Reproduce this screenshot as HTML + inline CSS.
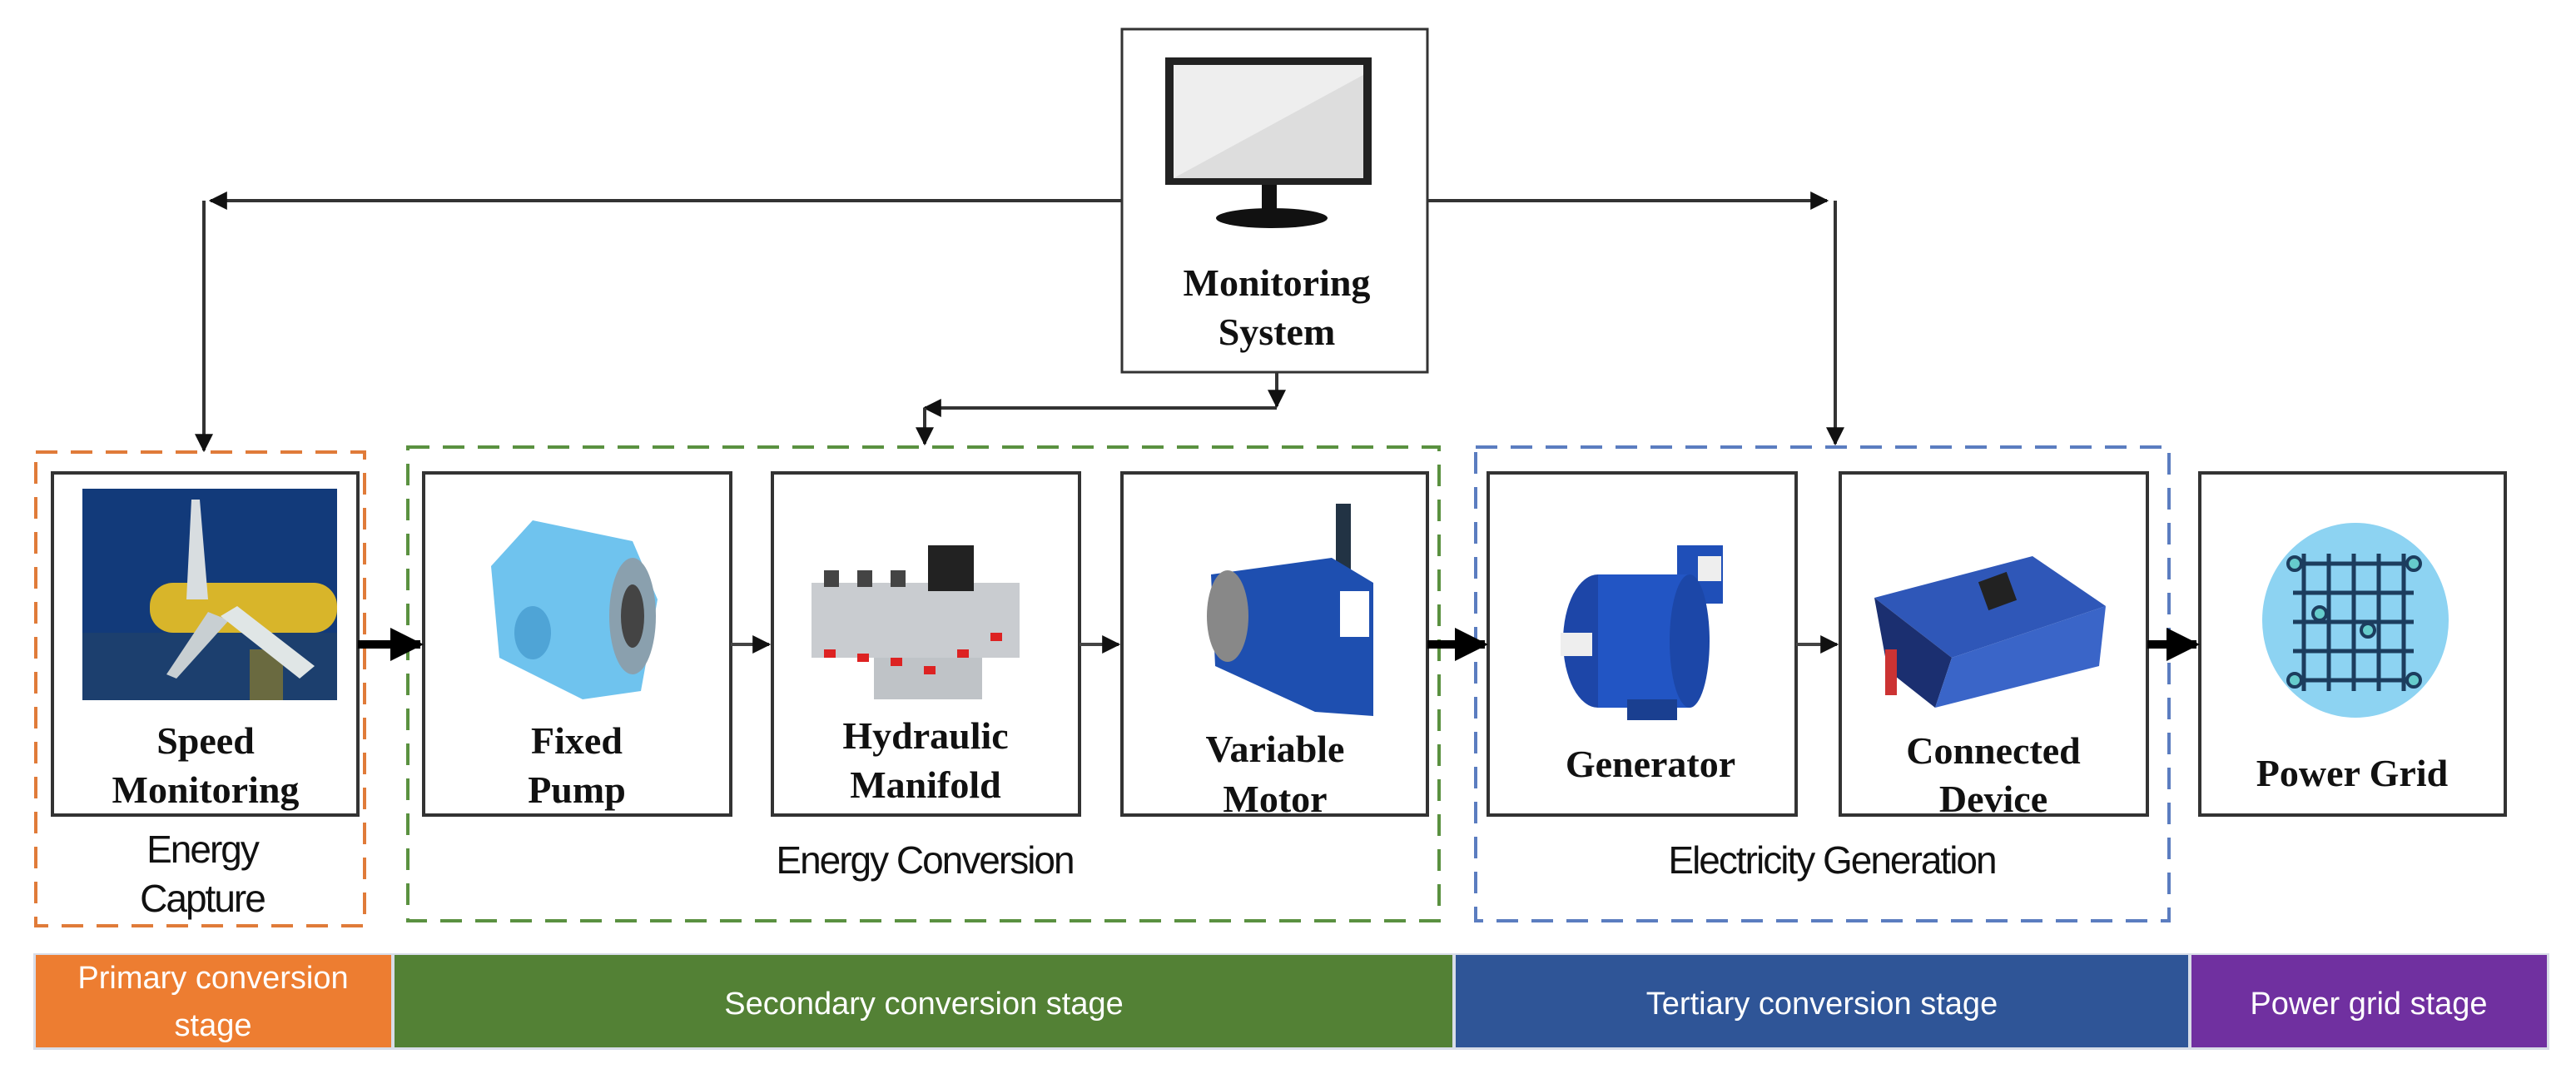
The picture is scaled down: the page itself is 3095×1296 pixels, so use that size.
<!DOCTYPE html>
<html><head><meta charset="utf-8"><style>
html,body{margin:0;padding:0;background:#fff;width:3095px;height:1296px;overflow:hidden}
svg{display:block}
.lb{font-family:"Liberation Serif",serif;font-weight:bold;font-size:46px;fill:#111;text-anchor:middle}
.gl{font-family:"Liberation Sans",sans-serif;font-size:46px;fill:#111;text-anchor:middle;letter-spacing:-2px}
.bt{font-family:"Liberation Sans",sans-serif;font-size:38px;fill:#fff;text-anchor:middle}
</style></head><body>
<svg width="3095" height="1296" viewBox="0 0 3095 1296" xmlns="http://www.w3.org/2000/svg">
<defs>
<marker id="as" viewBox="0 0 10 10" markerWidth="22" markerHeight="22" refX="9" refY="5" orient="auto" markerUnits="userSpaceOnUse"><path d="M0,0 L10,5 L0,10 z" fill="#111"/></marker>
<marker id="at" viewBox="0 0 10 10" markerWidth="40" markerHeight="40" refX="9" refY="5" orient="auto" markerUnits="userSpaceOnUse"><path d="M0,0 L10,5 L0,10 z" fill="#000"/></marker>
</defs>

<rect x="1348" y="35" width="367" height="412" fill="#fff" stroke="#333" stroke-width="3"/>
<rect x="1400" y="69" width="248" height="153" fill="#222"/>
<rect x="1410" y="78" width="228" height="136" fill="#eee"/>
<polygon points="1410,214 1638,90 1638,214" fill="#ddd"/>
<rect x="1516" y="222" width="18" height="36" fill="#111"/>
<ellipse cx="1528" cy="262" rx="67" ry="12" fill="#111"/>
<text class="lb" x="1534" y="355">Monitoring</text>
<text class="lb" x="1534" y="414">System</text>

<g stroke="#333" stroke-width="4" fill="none">
<line x1="1348" y1="241" x2="253" y2="241" marker-end="url(#as)"/>
<line x1="245" y1="241" x2="245" y2="541" marker-end="url(#as)"/>
<line x1="1715" y1="241" x2="2195" y2="241" marker-end="url(#as)"/>
<line x1="2205" y1="241" x2="2205" y2="533" marker-end="url(#as)"/>
<line x1="1534" y1="447" x2="1534" y2="488" marker-end="url(#as)"/>
<line x1="1534" y1="490" x2="1111" y2="490" marker-end="url(#as)"/>
<line x1="1111" y1="490" x2="1111" y2="533" marker-end="url(#as)"/>
</g>

<rect x="43" y="543" width="395" height="569" fill="none" stroke="#E07B39" stroke-width="4" stroke-dasharray="26,16"/>
<rect x="490" y="537" width="1239" height="569" fill="none" stroke="#5A9140" stroke-width="4" stroke-dasharray="26,16"/>
<rect x="1773" y="537" width="833" height="569" fill="none" stroke="#5B7DC0" stroke-width="4" stroke-dasharray="26,16"/>

<g fill="#fff" stroke="#333" stroke-width="4">
<rect x="63" y="568" width="367" height="411"/>
<rect x="509" y="568" width="369" height="411"/>
<rect x="928" y="568" width="369" height="411"/>
<rect x="1348" y="568" width="367" height="411"/>
<rect x="1788" y="568" width="370" height="411"/>
<rect x="2211" y="568" width="369" height="411"/>
<rect x="2643" y="568" width="367" height="411"/>
</g>

<rect x="99" y="587" width="306" height="254" fill="#123A7A"/>
<rect x="99" y="760" width="306" height="81" fill="#1C3F6E"/>
<rect x="300" y="780" width="40" height="61" fill="#6a6a40"/>
<rect x="180" y="700" width="225" height="60" rx="28" fill="#D8B52A"/>
<polygon points="230,600 240,600 250,720 224,720" fill="#d8dde0"/>
<polygon points="250,735 200,810 212,815 275,745" fill="#c8cfd2"/>
<polygon points="265,740 360,815 378,800 285,728" fill="#e0e6e6"/>

<polygon points="590,680 640,625 760,650 790,720 770,830 700,840 600,790" fill="#6FC3EE"/>
<ellipse cx="760" cy="740" rx="28" ry="70" fill="#8aa0ae"/>
<ellipse cx="760" cy="740" rx="14" ry="38" fill="#444"/>
<ellipse cx="640" cy="760" rx="22" ry="32" fill="#4FA4D6"/>

<rect x="975" y="700" width="250" height="90" fill="#c9ccd0"/>
<rect x="1050" y="790" width="130" height="50" fill="#bfc3c7"/>
<rect x="1115" y="655" width="55" height="55" fill="#222"/>
<g fill="#d22">
<rect x="990" y="780" width="14" height="10"/><rect x="1030" y="785" width="14" height="10"/><rect x="1070" y="790" width="14" height="10"/><rect x="1110" y="800" width="14" height="10"/><rect x="1150" y="780" width="14" height="10"/><rect x="1190" y="760" width="14" height="10"/>
</g>
<g fill="#444"><rect x="990" y="685" width="18" height="20"/><rect x="1030" y="685" width="18" height="20"/><rect x="1070" y="685" width="18" height="20"/></g>

<rect x="1605" y="605" width="18" height="80" fill="#234" />
<polygon points="1455,690 1600,670 1650,700 1650,860 1580,855 1460,800" fill="#1E4FB0"/>
<ellipse cx="1475" cy="740" rx="25" ry="55" fill="#888"/>
<rect x="1610" y="710" width="35" height="55" fill="#fff"/>

<rect x="2015" y="655" width="55" height="70" fill="#1F4FB8"/>
<rect x="2040" y="668" width="28" height="30" fill="#eee"/>
<ellipse cx="1920" cy="770" rx="42" ry="80" fill="#1D46A8"/>
<rect x="1920" y="690" width="110" height="160" fill="#2255C4"/>
<ellipse cx="2030" cy="770" rx="24" ry="80" fill="#1C47A8"/>
<rect x="1875" y="760" width="38" height="28" fill="#eee"/>
<rect x="1955" y="840" width="60" height="25" fill="#1A3F90"/>

<polygon points="2252,718 2442,668 2530,728 2345,790" fill="#2F57B8"/>
<polygon points="2252,718 2345,790 2325,850 2268,805" fill="#1b2f70"/>
<polygon points="2345,790 2530,728 2522,800 2325,850" fill="#3a65c8"/>
<rect x="2382" y="692" width="36" height="36" fill="#222" transform="rotate(-20 2400 710)"/>
<rect x="2265" y="780" width="14" height="55" fill="#c33"/>

<ellipse cx="2830" cy="745" rx="112" ry="117" fill="#8DD3F2"/>
<g stroke="#1c3d5e" stroke-width="5" fill="none">
<line x1="2755" y1="677" x2="2900" y2="677"/><line x1="2755" y1="712" x2="2900" y2="712"/><line x1="2755" y1="747" x2="2900" y2="747"/><line x1="2755" y1="782" x2="2900" y2="782"/><line x1="2755" y1="817" x2="2900" y2="817"/>
<line x1="2768" y1="665" x2="2768" y2="830"/><line x1="2798" y1="665" x2="2798" y2="830"/><line x1="2828" y1="665" x2="2828" y2="830"/><line x1="2858" y1="665" x2="2858" y2="830"/><line x1="2888" y1="665" x2="2888" y2="830"/>
</g>
<g fill="#6cc" stroke="#1c3d5e" stroke-width="4">
<circle cx="2757" cy="677" r="8"/><circle cx="2900" cy="677" r="8"/><circle cx="2757" cy="817" r="8"/><circle cx="2900" cy="817" r="8"/><circle cx="2787" cy="737" r="8"/><circle cx="2845" cy="757" r="8"/>
</g>

<text class="lb" x="247" y="905">Speed</text>
<text class="lb" x="247" y="964">Monitoring</text>
<text class="lb" x="693" y="905">Fixed</text>
<text class="lb" x="693" y="964">Pump</text>
<text class="lb" x="1112" y="899">Hydraulic</text>
<text class="lb" x="1112" y="958">Manifold</text>
<text class="lb" x="1532" y="915">Variable</text>
<text class="lb" x="1532" y="975">Motor</text>
<text class="lb" x="1983" y="933">Generator</text>
<text class="lb" x="2395" y="917">Connected</text>
<text class="lb" x="2395" y="975">Device</text>
<text class="lb" x="2826" y="944">Power Grid</text>

<g stroke="#000" fill="none">
<line x1="430" y1="774" x2="505" y2="774" stroke-width="10" marker-end="url(#at)"/>
<line x1="1715" y1="774" x2="1784" y2="774" stroke-width="10" marker-end="url(#at)"/>
<line x1="2580" y1="774" x2="2639" y2="774" stroke-width="10" marker-end="url(#at)"/>
<line x1="878" y1="774" x2="924" y2="774" stroke="#444" stroke-width="4" marker-end="url(#as)"/>
<line x1="1297" y1="774" x2="1344" y2="774" stroke="#444" stroke-width="4" marker-end="url(#as)"/>
<line x1="2158" y1="774" x2="2207" y2="774" stroke="#444" stroke-width="4" marker-end="url(#as)"/>
</g>

<text class="gl" x="243" y="1036">Energy</text>
<text class="gl" x="243" y="1095">Capture</text>
<text class="gl" x="1111" y="1049">Energy Conversion</text>
<text class="gl" x="2201" y="1049">Electricity Generation</text>

<rect x="40" y="1145" width="3023" height="116" fill="#d8dde8"/>
<rect x="43" y="1147" width="427" height="111" fill="#ED7D31"/>
<rect x="474" y="1147" width="1271" height="111" fill="#538135"/>
<rect x="1749" y="1147" width="880" height="111" fill="#2F5597"/>
<rect x="2633" y="1147" width="427" height="111" fill="#7030A0"/>
<text class="bt" x="256" y="1187">Primary conversion</text>
<text class="bt" x="256" y="1244">stage</text>
<text class="bt" x="1110" y="1218">Secondary conversion stage</text>
<text class="bt" x="2189" y="1218">Tertiary conversion stage</text>
<text class="bt" x="2846" y="1218">Power grid stage</text>
</svg>
</body></html>
